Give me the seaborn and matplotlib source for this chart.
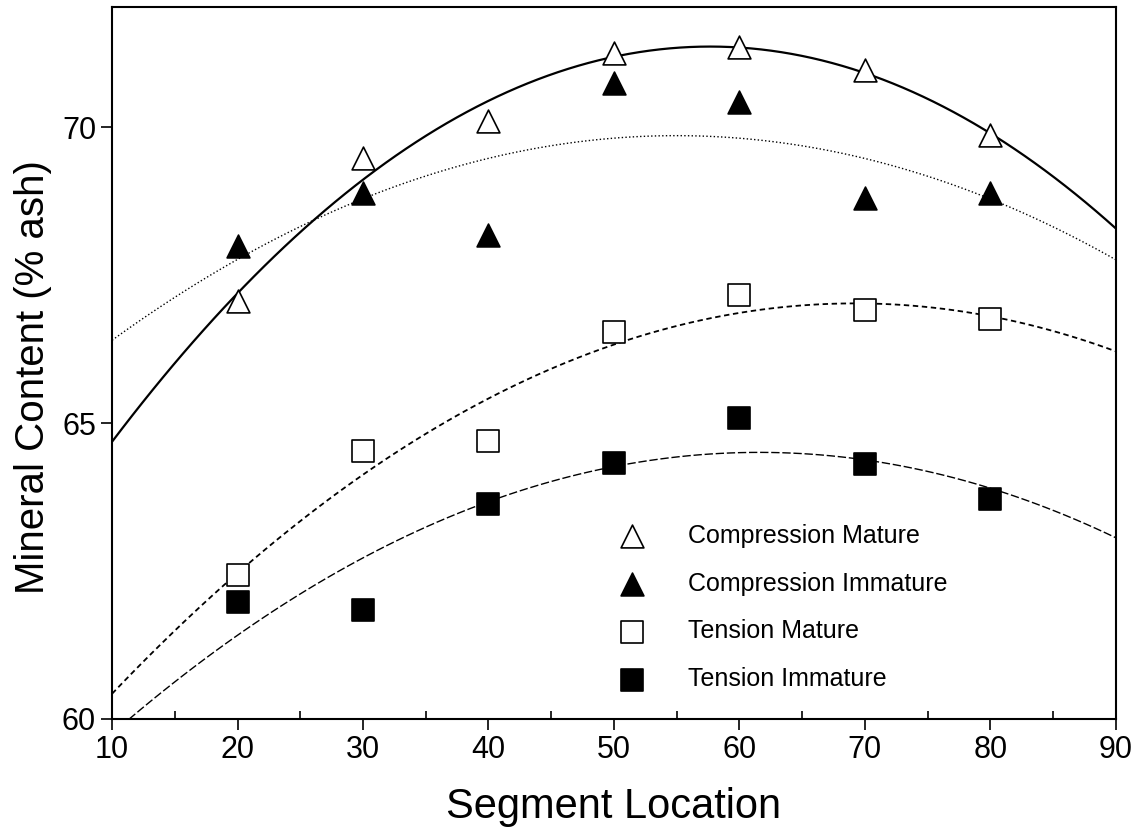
import matplotlib
matplotlib.use('Agg')
import matplotlib.pyplot as plt
from matplotlib.ticker import MultipleLocator
import pandas as pd
import seaborn as sns

# segment locations and mineral content
segments = [20, 30, 40, 50, 60, 70, 80]
comp_mature = [67.07, 69.48, 70.10, 71.26, 71.35, 70.96, 69.87]
comp_immature = [67.99, 68.89, 68.18, 70.74, 70.42, 68.80, 68.89]
tens_mature = [62.43, 64.52, 64.69, 66.54, 67.17, 66.91, 66.76]
tens_immature = [61.97, 61.84, 63.63, 64.32, 65.08, 64.30, 63.71]

series = [
    ('Compression Mature', comp_mature, '^', 'white', '-', 1.6),
    ('Compression Immature', comp_immature, '^', 'black', ':', 1.0),
    ('Tension Mature', tens_mature, 's', 'white', (0, (3, 2)), 1.3),
    ('Tension Immature', tens_immature, 's', 'black', (0, (6, 2)), 1.0),
]

sns.set_style('ticks')
plt.rcParams['font.family'] = ['Liberation Sans', 'DejaVu Sans']
plt.rcParams['text.color'] = 'black'
plt.rcParams['axes.labelcolor'] = 'black'
plt.rcParams['xtick.color'] = 'black'
plt.rcParams['ytick.color'] = 'black'

fig = plt.figure(figsize=(11.41, 8.31), dpi=100)
ax = fig.add_axes([0.0982, 0.1348, 0.8798, 0.8568])
ax.set_xlim(10, 90)
ax.set_ylim(60, 72.03)

for name, vals, mk, face, ls, lw in series:
    df = pd.DataFrame({'seg': segments, 'ash': vals})
    sns.regplot(data=df, x='seg', y='ash', order=2, ci=None, truncate=False,
                marker=mk, color='black', label=name, ax=ax,
                scatter_kws={'s': 270 if mk == '^' else 240, 'facecolors': face,
                             'edgecolors': 'black', 'linewidths': 1.2,
                             'alpha': 1, 'zorder': 3},
                line_kws={'linestyle': ls, 'linewidth': lw, 'zorder': 2})

ax.set_xlim(10, 90)
ax.set_ylim(60, 72.03)
ax.set_xticks([10, 20, 30, 40, 50, 60, 70, 80, 90])
ax.set_yticks([60, 65, 70])
ax.xaxis.set_minor_locator(MultipleLocator(5))
ax.tick_params(axis='both', which='major', direction='out', length=8, width=1.2,
               labelsize=22, labelcolor='black', top=False, right=False)
ax.tick_params(axis='x', which='minor', direction='in', length=6, width=1.2)
for sp in ax.spines.values():
    sp.set_visible(True)
    sp.set_color('black')
    sp.set_linewidth(1.5)

ax.set_xlabel('Segment Location', fontsize=30, labelpad=16)
ax.set_ylabel('Mineral Content (% ash)', fontsize=29)
ax.yaxis.set_label_coords(-0.06, 0.48)

leg = ax.legend(loc='upper left', bbox_to_anchor=(0.493, 0.274), frameon=False,
                fontsize=18, handletextpad=1.24, labelspacing=0.95,
                borderpad=0, borderaxespad=0, markerscale=1.0)

fig.savefig('out.png', dpi=100)
